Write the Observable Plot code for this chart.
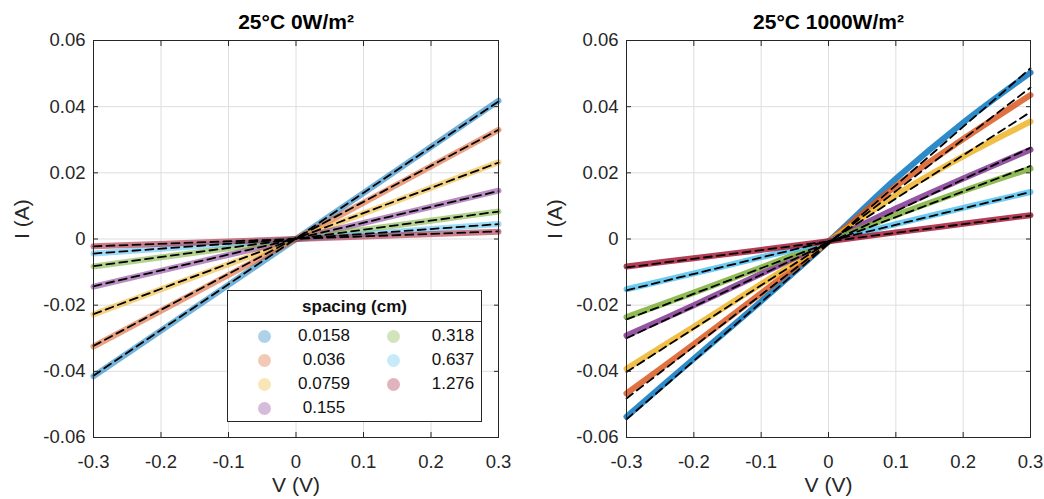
<!DOCTYPE html>
<html>
<head>
<meta charset="utf-8">
<script src="https://cdn.jsdelivr.net/npm/d3@7"></script>
<script src="https://cdn.jsdelivr.net/npm/@observablehq/plot@0.6"></script>
<style>
  html, body { margin: 0; padding: 0; background: #fff; }
  #wrap { position: relative; width: 1044px; height: 499px; display: flex; font-family: "Liberation Sans", Arial, sans-serif; }
  #legend { position: absolute; left: 227px; top: 290px; width: 253px; height: 130px; border: 1px solid #262626; background: #fff; color: #111; font-size: 17px; }
  #legend .ttl { position: absolute; left: 0; right: 0; top: 0; height: 30px; line-height: 32px; text-align: center; font-weight: bold; border-bottom: 1px solid #262626; }
  #legend .dot { position: absolute; width: 13px; height: 13px; border-radius: 50%; }
  #legend .lab { position: absolute; width: 80px; text-align: center; line-height: 20px; }
</style>
</head>
<body>
<div id="wrap"></div>
<script>
// ---------- data ----------
const spacingLabels = ["0.0158", "0.036", "0.0759", "0.155", "0.318", "0.637", "1.276"];
const seriesColors = ["#0072BD", "#D95319", "#EDB120", "#7E2F8E", "#77AC30", "#4DBEEE", "#A2142F"];
const xTicks = [-0.3, -0.2, -0.1, 0, 0.1, 0.2, 0.3];
const yTicks = [-0.06, -0.04, -0.02, 0, 0.02, 0.04, 0.06];
const titles = ["25°C 0W/m²", "25°C 1000W/m²"];
const xLabel = "V (V)";
const yLabel = "I (A)";
const legendTitle = "spacing (cm)";

// dark (0 W/m²) measured curves
const vDark = [-0.3, 0, 0.3];
const iDark = [
  [-0.0415, 0, 0.0418],
  [-0.0325, 0, 0.0330],
  [-0.0228, 0, 0.0232],
  [-0.0144, 0, 0.0146],
  [-0.0083, 0, 0.0083],
  [-0.0044, 0, 0.0045],
  [-0.0022, 0, 0.0022]
];
// dark fits
const vFit = [-0.3, 0.3];
const iDarkFit = [
  [-0.0413, 0.0416],
  [-0.0323, 0.0330],
  [-0.0227, 0.0231],
  [-0.0143, 0.0145],
  [-0.0082, 0.0083],
  [-0.0044, 0.0045],
  [-0.0022, 0.0023]
];
// light (1000 W/m²) measured curves
const vLight = [-0.3, -0.2, -0.1, 0, 0.1, 0.2, 0.3];
const iLight = [
  [-0.0537, -0.0362, -0.0188, -0.0008, 0.0182, 0.0352, 0.0503],
  [-0.0467, -0.0318, -0.0164, -0.0008, 0.0160, 0.0302, 0.0435],
  [-0.0392, -0.0265, -0.0136, -0.0008, 0.0133, 0.0250, 0.0355],
  [-0.0292, -0.0200, -0.0105, -0.0008, 0.0092, 0.0183, 0.0270],
  [-0.0236, -0.0162, -0.0086, -0.0008, 0.0072, 0.0145, 0.0213],
  [-0.0152, -0.0104, -0.0055, -0.0007, 0.0045, 0.0094, 0.0142],
  [-0.0083, -0.0058, -0.0033, -0.0007, 0.0020, 0.0046, 0.0072]
];
// light fits
const iLightFit = [
  [-0.0545, 0.0516],
  [-0.0482, 0.0458],
  [-0.0402, 0.0384],
  [-0.0300, 0.0276],
  [-0.0243, 0.0221],
  [-0.0155, 0.0142],
  [-0.0086, 0.0071]
];

// ---------- helpers ----------
function toRows(vs, table) {
  const rows = [];
  table.forEach((arr, k) => arr.forEach((I, j) => rows.push({V: vs[j], I, s: spacingLabels[k]})));
  return rows;
}
const fmtX = d => String(Math.round(d * 10) / 10 || 0);
const fmtY = d => String(Math.round(d * 100) / 100 || 0);
const ink = "#262626";
const font = '"Liberation Sans", Arial, sans-serif';

function panel(title, dataRows, fitRows, opacity, mL, mR) {
  return Plot.plot({
    width: 522, height: 499,
    marginLeft: mL, marginRight: mR, marginTop: 40, marginBottom: 62,
    style: {fontFamily: font, fontSize: "18.5px", color: ink, background: "#fff", overflow: "visible"},
    x: {domain: [-0.3, 0.3], ticks: xTicks},
    y: {domain: [-0.06, 0.06], ticks: yTicks},
    color: {domain: spacingLabels, range: seriesColors},
    marks: [
      Plot.gridX(xTicks, {stroke: "#dedede", strokeOpacity: 1}),
      Plot.gridY(yTicks, {stroke: "#dedede", strokeOpacity: 1}),
      Plot.line(dataRows, {x: "V", y: "I", z: "s", stroke: "s", strokeWidth: 6, strokeOpacity: opacity, strokeLinecap: "round", curve: "catmull-rom"}),
      Plot.line(fitRows, {x: "V", y: "I", z: "s", stroke: "#000", strokeWidth: 1.8, strokeDasharray: "8,5"}),
      Plot.frame({stroke: ink}),
      Plot.axisX(xTicks, {anchor: "bottom", tickSize: -5, stroke: ink, tickFormat: () => "", label: null}),
      Plot.axisX(xTicks, {anchor: "top", tickSize: -5, stroke: ink, tickFormat: () => "", label: null}),
      Plot.axisY(yTicks, {anchor: "left", tickSize: -5, stroke: ink, tickFormat: () => "", label: null}),
      Plot.axisY(yTicks, {anchor: "right", tickSize: -5, stroke: ink, tickFormat: () => "", label: null}),
      Plot.axisX(xTicks, {anchor: "bottom", tickSize: 0, tickPadding: 17, tickFormat: fmtX, label: null, fill: ink, fontSize: 18.5}),
      Plot.axisY(yTicks, {anchor: "left", tickSize: 0, tickPadding: 8, tickFormat: fmtY, label: null, fill: ink, fontSize: 18.5}),
      Plot.text([title], {frameAnchor: "top", dy: -12, fontSize: 21, fontWeight: "bold", fill: "#000", lineAnchor: "bottom"}),
      Plot.text([xLabel], {frameAnchor: "bottom", dy: 48, fontSize: 21, fill: ink, lineAnchor: "middle"}),
      Plot.text([yLabel], {frameAnchor: "left", dx: -71, rotate: -90, fontSize: 21, fill: ink, lineAnchor: "middle"})
    ]
  });
}

const wrap = document.getElementById("wrap");
wrap.appendChild(panel(titles[0], toRows(vDark, iDark), toRows(vFit, iDarkFit), 0.55, 93, 24));
wrap.appendChild(panel(titles[1], toRows(vLight, iLight), toRows(vFit, iLightFit), 0.82, 104, 14));

// ---------- legend ----------
const leg = document.createElement("div");
leg.id = "legend";
const t = document.createElement("div");
t.className = "ttl"; t.textContent = legendTitle;
leg.appendChild(t);
const rowY = [45, 69, 93, 117];
spacingLabels.forEach((lab, k) => {
  const col = k < 4 ? 0 : 1;
  const row = k < 4 ? k : k - 4;
  const dotX = col === 0 ? 36 : 165;
  const labX = col === 0 ? 96 : 225;
  const c = d3.color(seriesColors[k]); c.opacity = 0.32;
  const dot = document.createElement("div");
  dot.className = "dot";
  dot.style.left = (dotX - 6.5) + "px"; dot.style.top = (rowY[row] - 6.5) + "px";
  dot.style.background = c.formatRgb();
  const tx = document.createElement("div");
  tx.className = "lab"; tx.textContent = lab;
  tx.style.left = (labX - 40) + "px"; tx.style.top = (rowY[row] - 10) + "px";
  leg.appendChild(dot); leg.appendChild(tx);
});
wrap.appendChild(leg);
</script>
</body>
</html>
